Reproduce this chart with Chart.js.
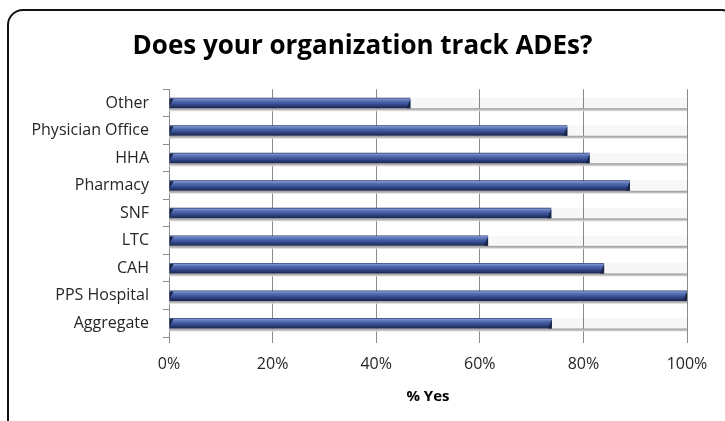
<html><head><title>Does your organization track ADEs?</title>
<script src="https://cdn.jsdelivr.net/npm/chart.js"></script>
<style>
  body {
    margin: 0;
    background: #fff;
    overflow: hidden;
  }
  #wrap {
    position: relative;
    width: 725px;
    height: 421px;
  }
  #frame {
    position: absolute;
    left: 7px;
    top: 9px;
    width: 730px;
    height: 430px;
    border: 2px solid #111;
    border-radius: 16px;
    box-sizing: border-box;
    pointer-events: none;
  }
  #chart {
    position: absolute;
    left: 0;
    top: 0;
  }
</style>
</head>
<body>
<div id="wrap">
  <canvas id="chart" width="725" height="421"></canvas>
  <div id="frame"></div>
</div>

<script>
const categories = ['Other', 'Physician Office', 'HHA', 'Pharmacy', 'SNF', 'LTC', 'CAH', 'PPS Hospital', 'Aggregate'];
const pctYes = [46.6, 76.9, 81.2, 89.0, 73.8, 61.6, 84.0, 100, 73.9];
const xTicks = [0, 20, 40, 60, 80, 100];

const barPct = 0.38;
const gridColor = '#8a8a8a';
const fontFam = "'Open Sans', sans-serif";

// height of one bar, taken from the y scale
function barHeight(chart) {
  const y = chart.scales.y;
  return (y.bottom - y.top) / categories.length * barPct;
}

// vertical gradient per bar (3D tube look)
function barFill(ctx) {
  const chart = ctx.chart;
  if (!chart.scales.y || ctx.dataIndex === undefined) return '#3c5499';
  const yc = chart.scales.y.getPixelForValue(ctx.dataIndex);
  const h = barHeight(chart);
  if (!isFinite(yc) || !isFinite(h) || h <= 0) return '#3c5499';
  const g = chart.ctx.createLinearGradient(0, yc - h / 2, 0, yc + h / 2);
  g.addColorStop(0, '#26366a');
  g.addColorStop(0.12, '#7d92cc');
  g.addColorStop(0.3, '#566fb3');
  g.addColorStop(0.6, '#374e93');
  g.addColorStop(1, '#18244a');
  return g;
}

// grey "floor" under each bar, across the whole plot width
const floorPlugin = {
  id: 'floor',
  afterLayout(chart) {
    // centre the title on the whole canvas, like the original
    if (chart.titleBlock) {
      chart.titleBlock.left = 0;
      chart.titleBlock.right = chart.width;
    }
  },
  beforeDatasetsDraw(chart) {
    const c = chart.ctx;
    const x = chart.scales.x;
    const h = barHeight(chart);
    c.save();
    categories.forEach((cat, i) => {
      const yc = chart.scales.y.getPixelForValue(i);
      const yb = yc + h / 2;
      c.fillStyle = 'rgba(0,0,0,0.03)';
      c.fillRect(x.left, yc - h / 2, x.right - x.left, h);
      const g = c.createLinearGradient(0, yb, 0, yb + 4);
      g.addColorStop(0, '#999');
      g.addColorStop(0.5, '#c2c2c2');
      g.addColorStop(1, 'rgba(255,255,255,0)');
      c.fillStyle = g;
      c.fillRect(x.left, yb, x.right - x.left, 4);
    });
    c.restore();
  },
  afterDatasetsDraw(chart) {
    // bevelled ends of the bars
    const c = chart.ctx;
    const meta = chart.getDatasetMeta(0);
    c.save();
    meta.data.forEach(bar => {
      const p = bar.getProps(['x', 'y', 'base', 'height']);
      const top = p.y - p.height / 2, bot = p.y + p.height / 2;
      c.fillStyle = '#1a2548';
      c.beginPath();
      c.moveTo(p.x, top + 1);
      c.lineTo(p.x, bot);
      c.lineTo(p.x - 4, bot);
      c.closePath();
      c.fill();
      c.beginPath();
      c.moveTo(p.base, top + 1);
      c.lineTo(p.base + 4, top + 1);
      c.lineTo(p.base, bot - 2);
      c.closePath();
      c.fill();
    });
    c.restore();
  }
};

new Chart(document.getElementById('chart'), {
  type: 'bar',
  data: {
    labels: categories,
    datasets: [{
      label: '% Yes',
      data: pctYes,
      backgroundColor: barFill,
      borderWidth: 0,
      barPercentage: barPct,
      categoryPercentage: 1
    }]
  },
  options: {
    indexAxis: 'y',
    responsive: false,
    animation: false,
    layout: {
      padding: { left: 8, right: 38, top: 0, bottom: 0 }
    },
    plugins: {
      legend: { display: false },
      tooltip: { enabled: false },
      title: {
        display: true,
        text: 'Does your organization track ADEs?',
        color: '#000',
        font: { family: fontFam, size: 26, weight: 'bold' },
        padding: { top: 31, bottom: 27 }
      }
    },
    scales: {
      x: {
        min: 0,
        max: 100,
        afterBuildTicks: s => { s.ticks = xTicks.map(v => ({ value: v })); },
        afterFit: s => { s.height = 84; },
        ticks: {
          callback: v => v + '%',
          color: '#262626',
          padding: 12,
          font: { family: fontFam, size: 16 }
        },
        grid: { color: gridColor, tickLength: 6, tickColor: gridColor },
        border: { display: false },
        title: {
          display: true,
          text: '% Yes',
          color: '#000',
          font: { family: fontFam, size: 15, weight: 'bold' },
          padding: { top: 0, bottom: 15 }
        }
      },
      y: {
        afterFit: s => { s.width = 161; },
        ticks: {
          color: '#262626',
          padding: 14,
          font: { family: fontFam, size: 16 }
        },
        grid: { drawOnChartArea: false, tickLength: 6, color: gridColor },
        border: { display: true, color: gridColor }
      }
    }
  },
  plugins: [floorPlugin]
});
</script>
</body></html>
